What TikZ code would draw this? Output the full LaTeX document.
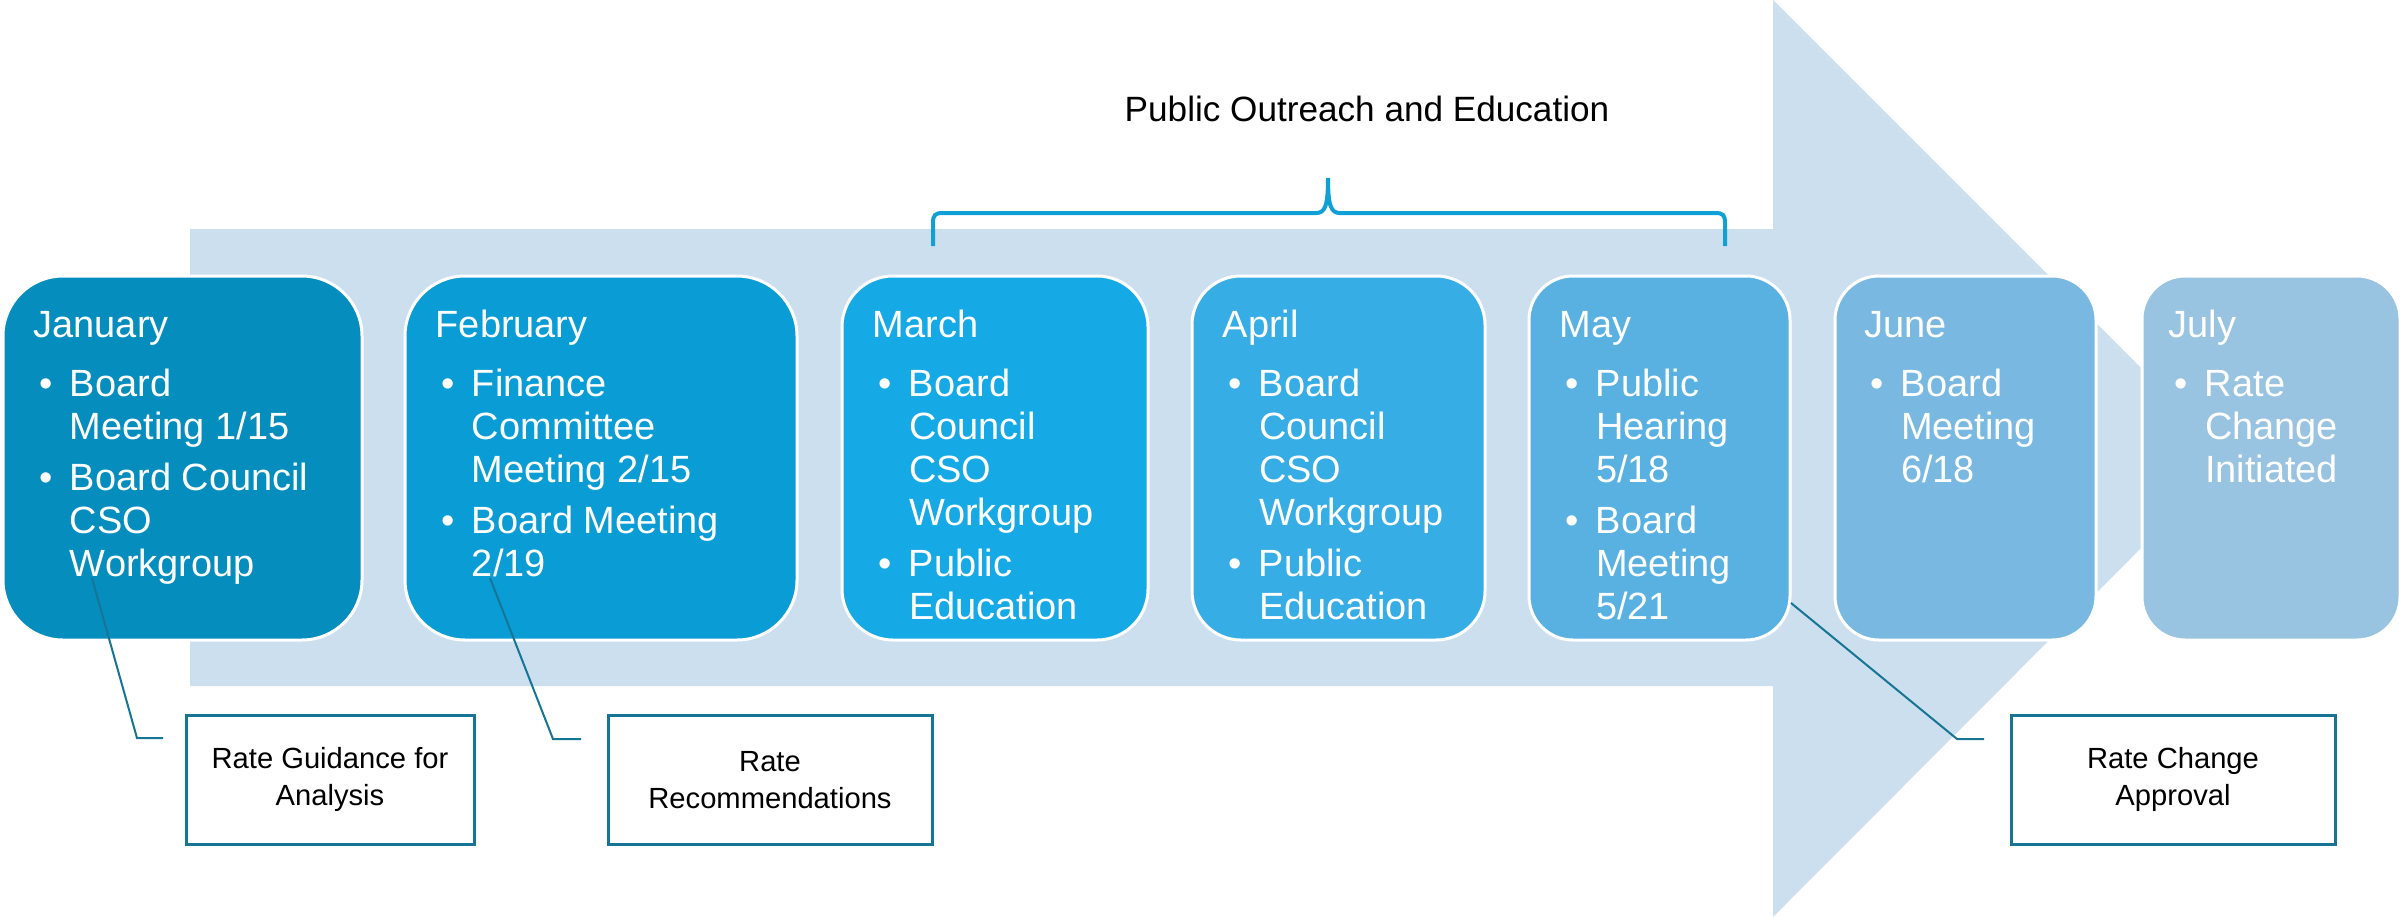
\documentclass[tikz,border=0pt]{standalone}
\usepackage{fontspec}
\setmainfont{Liberation Sans}
\usepackage{tikz}
\usetikzlibrary{calc}

\definecolor{arrowblue}{HTML}{CCDFEE}
\definecolor{janblue}{HTML}{058DBE}
\definecolor{febblue}{HTML}{0A9DD5}
\definecolor{marblue}{HTML}{15A9E6}
\definecolor{aprblue}{HTML}{37ADE6}
\definecolor{mayblue}{HTML}{58B1E1}
\definecolor{junblue}{HTML}{79B8E0}
\definecolor{julblue}{HTML}{98C3E1}
\definecolor{noteline}{HTML}{167594}
\definecolor{braceblue}{HTML}{0FA0D5}

\begin{document}
\begin{tikzpicture}[x = 0.1mm, y = -0.1mm,
  monthbox/.style = {draw = white, line width = 0.3mm, minimum height = 36.4mm, inner sep = 0pt},
  monthtext/.style = {anchor = base west, inner sep = 0pt, text = white, font = \fontsize{10.8}{12.2}\selectfont},
  notebox/.style = {draw = noteline, line width = 0.3mm, fill = white, minimum height = 12.9mm, align = center, font = \fontsize{8.3}{10.7}\selectfont},
  leader/.style = {draw = noteline, line width = 0.2mm}]
\useasboundingbox (0, 0) rectangle (2402, 917);

% big arrow behind the months
\fill[arrowblue] (190, 229) -- (1773, 229) -- (1773, 0) -- (2231, 458) -- (1773, 917) -- (1773, 686) -- (190, 686) -- cycle;

% brace over March to May
\draw[braceblue, line width = 0.4mm] (933, 246) -- (933, 223) .. controls (933, 215) and (935, 213) .. (943, 213) -- (1316, 213)
  .. controls (1325, 213) and (1328, 206) .. (1328, 178) .. controls (1328, 206) and (1331, 213) .. (1340, 213)
  -- (1715, 213) .. controls (1723, 213) and (1725, 215) .. (1725, 223) -- (1725, 246);
\node[font = \fontsize{10}{12}\selectfont, anchor = base, inner sep = 0pt] (outreach) at (1367, 121) {Public Outreach and Education};

% month boxes
\node[monthbox, fill = janblue, minimum width = 35.9mm, rounded corners = 6mm] (jan) at (182.5, 458) {};
\node[monthbox, fill = febblue, minimum width = 39.2mm, rounded corners = 6mm] (feb) at (601, 458) {};
\node[monthbox, fill = marblue, minimum width = 30.6mm, rounded corners = 5.1mm] (mar) at (995, 458) {};
\node[monthbox, fill = aprblue, minimum width = 29.3mm, rounded corners = 4.9mm] (apr) at (1338.5, 458) {};
\node[monthbox, fill = mayblue, minimum width = 26.1mm, rounded corners = 4.4mm] (may) at (1659.5, 458) {};
\node[monthbox, fill = junblue, minimum width = 26.1mm, rounded corners = 4.4mm] (jun) at (1965.5, 458) {};
\node[monthbox, fill = julblue, minimum width = 25.8mm, rounded corners = 4.3mm] (jul) at (2271, 458) {};

% month texts
\node[monthtext] (jantext) at (33, 337) {\begin{tabular}[t]{@{\hspace{0.6mm}}l@{\hspace{1.7mm}}l@{}}
  \multicolumn{2}{@{}l@{}}{January}\\[1.7mm]
  \textbullet & Board\\ & Meeting 1/15\\[0.8mm]
  \textbullet & Board Council\\ & CSO\\ & Workgroup
\end{tabular}};
\node[monthtext] (febtext) at (435, 337) {\begin{tabular}[t]{@{\hspace{0.6mm}}l@{\hspace{1.7mm}}l@{}}
  \multicolumn{2}{@{}l@{}}{February}\\[1.7mm]
  \textbullet & Finance\\ & Committee\\ & Meeting 2/15\\[0.8mm]
  \textbullet & Board Meeting\\ & 2/19
\end{tabular}};
\node[monthtext] (martext) at (872, 337) {\begin{tabular}[t]{@{\hspace{0.6mm}}l@{\hspace{1.7mm}}l@{}}
  \multicolumn{2}{@{}l@{}}{March}\\[1.7mm]
  \textbullet & Board\\ & Council\\ & CSO\\ & Workgroup\\[0.8mm]
  \textbullet & Public\\ & Education
\end{tabular}};
\node[monthtext] (aprtext) at (1222, 337) {\begin{tabular}[t]{@{\hspace{0.6mm}}l@{\hspace{1.7mm}}l@{}}
  \multicolumn{2}{@{}l@{}}{April}\\[1.7mm]
  \textbullet & Board\\ & Council\\ & CSO\\ & Workgroup\\[0.8mm]
  \textbullet & Public\\ & Education
\end{tabular}};
\node[monthtext] (maytext) at (1559, 337) {\begin{tabular}[t]{@{\hspace{0.6mm}}l@{\hspace{1.7mm}}l@{}}
  \multicolumn{2}{@{}l@{}}{May}\\[1.7mm]
  \textbullet & Public\\ & Hearing\\ & 5/18\\[0.8mm]
  \textbullet & Board\\ & Meeting\\ & 5/21
\end{tabular}};
\node[monthtext] (juntext) at (1864, 337) {\begin{tabular}[t]{@{\hspace{0.6mm}}l@{\hspace{1.7mm}}l@{}}
  \multicolumn{2}{@{}l@{}}{June}\\[1.7mm]
  \textbullet & Board\\ & Meeting\\ & 6/18
\end{tabular}};
\node[monthtext] (jultext) at (2168, 337) {\begin{tabular}[t]{@{\hspace{0.6mm}}l@{\hspace{1.7mm}}l@{}}
  \multicolumn{2}{@{}l@{}}{July}\\[1.7mm]
  \textbullet & Rate\\ & Change\\ & Initiated
\end{tabular}};

% callouts
\node[notebox, minimum width = 28.8mm] (guidance) at (330, 779.5) {Rate Guidance for\\Analysis};
\node[notebox, minimum width = 32.4mm] (recommend) at (770, 780) {Rate\\Recommendations};
\node[notebox, minimum width = 32.4mm] (approval) at (2173, 779.5) {Rate Change\\Approval};

\coordinate (jan-pin) at (92, 578);
\coordinate (jan-bend) at (137, 738);
\coordinate (jan-end) at (163, 738);
\coordinate (feb-pin) at (490, 578);
\coordinate (feb-bend) at (553, 739);
\coordinate (feb-end) at (581, 739);
\coordinate (may-pin) at (1791, 603);
\coordinate (may-bend) at (1957, 739);
\coordinate (may-end) at (1984, 739);

\draw[leader] (jan-pin) -- (jan-bend) -- (jan-end);
\draw[leader] (feb-pin) -- (feb-bend) -- (feb-end);
\draw[leader] (may-pin) -- (may-bend) -- (may-end);
\end{tikzpicture}
\end{document}
